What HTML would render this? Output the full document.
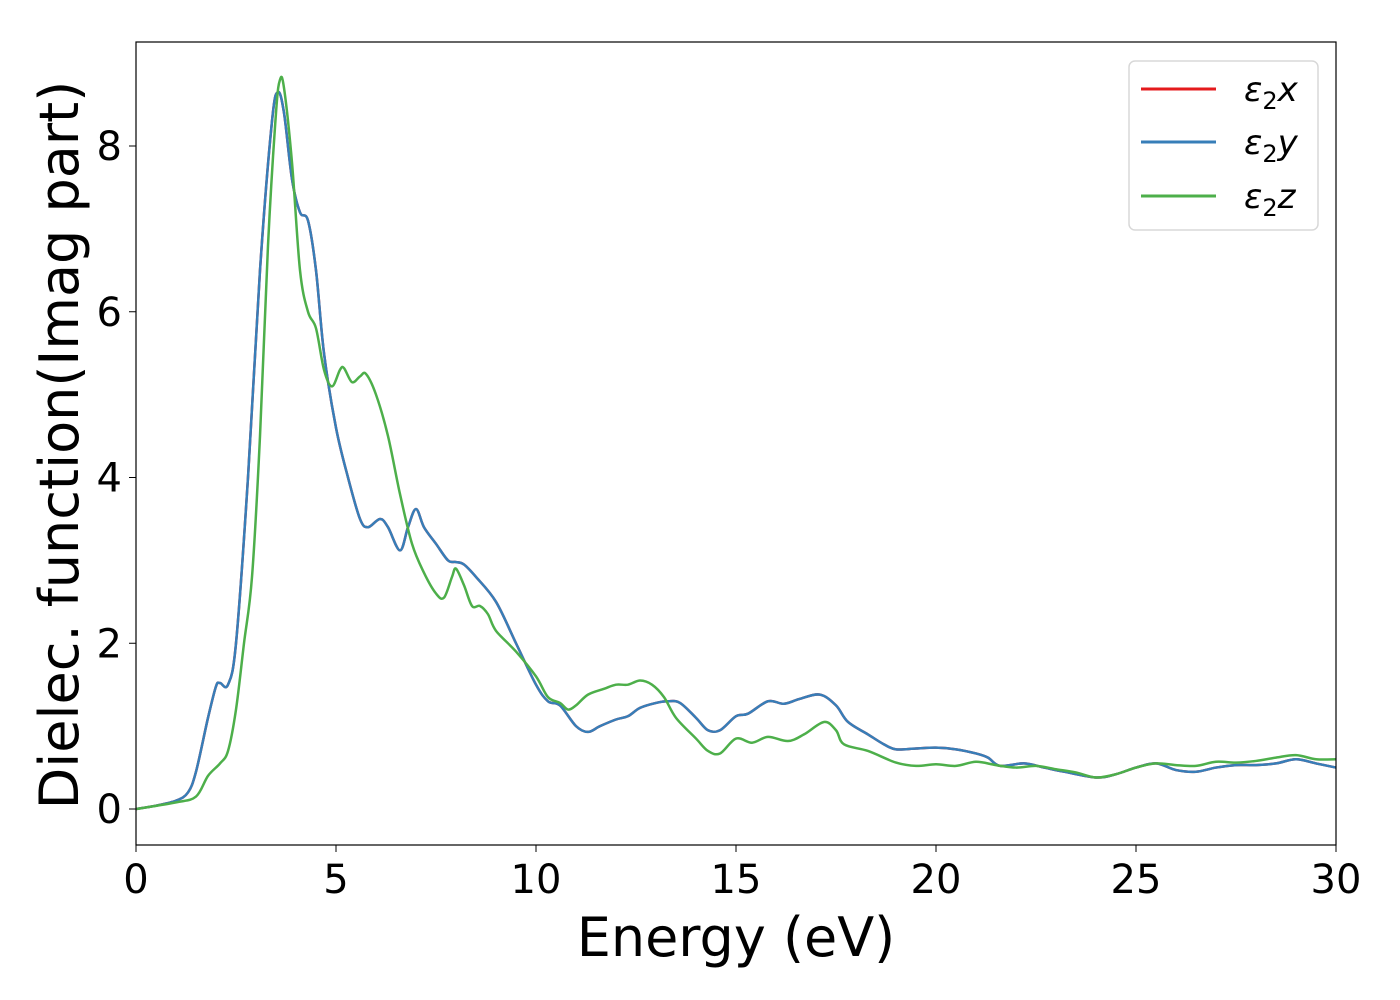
<!DOCTYPE html>
<html><head><meta charset="utf-8"><style>
html,body{margin:0;padding:0;background:#fff;}
svg{display:block;font-family:"DejaVu Sans","Liberation Sans",sans-serif;}
</style></head><body>
<svg id="chart" width="1400" height="1000">
<rect x="0" y="0" width="1400" height="1000" fill="#fff"/>
<g id="series"></g>
<rect x="136" y="42" width="1200" height="803" fill="none" stroke="#000" stroke-width="1.2"/>
<g id="xticks"></g>
<g id="yticks"></g>
<text x="736" y="956" font-size="54" text-anchor="middle">Energy (eV)</text>
<text transform="translate(78,445) rotate(-90)" font-size="54" text-anchor="middle">Dielec. function(Imag part)</text>
<g>
<rect x="1129" y="61" width="189" height="169" rx="6" fill="#fff" stroke="#d8d8d8" stroke-width="1.5"/>
<line x1="1141" y1="89" x2="1216" y2="89" stroke="#e41a1c" stroke-width="3"/>
<text x="1244" y="101" font-size="34" font-style="italic">ε<tspan font-style="normal" font-size="24" dy="8">2</tspan><tspan dy="-8">x</tspan></text>
<line x1="1141" y1="142" x2="1216" y2="142" stroke="#377eb8" stroke-width="3"/>
<text x="1244" y="154" font-size="34" font-style="italic">ε<tspan font-style="normal" font-size="24" dy="8">2</tspan><tspan dy="-8">y</tspan></text>
<line x1="1141" y1="196" x2="1216" y2="196" stroke="#4daf4a" stroke-width="3"/>
<text x="1244" y="208" font-size="34" font-style="italic">ε<tspan font-style="normal" font-size="24" dy="8">2</tspan><tspan dy="-8">z</tspan></text>
</g>
</svg>
<script>
const xyEnergy=[0,0.5,1,1.3,1.5,1.8,2.0,2.1,2.3,2.5,2.8,3.1,3.4,3.55,3.7,3.9,4.1,4.3,4.5,4.7,5.0,5.3,5.6,5.8,6.1,6.3,6.6,6.8,7.0,7.2,7.5,7.8,8.0,8.2,8.5,9.0,9.5,10.0,10.3,10.6,11.0,11.3,11.6,12.0,12.3,12.6,13.0,13.3,13.6,14.0,14.3,14.6,15.0,15.3,15.8,16.2,16.6,17.1,17.5,17.8,18.3,18.7,19.0,19.5,20.0,20.5,21.0,21.3,21.6,22.2,22.7,23.2,24.0,24.5,25.0,25.5,26.0,26.5,27.0,27.5,28.0,28.5,29.0,29.5,30];
const xValues=[0,0.04,0.1,0.2,0.45,1.1,1.48,1.52,1.5,2.0,4.0,6.5,8.3,8.65,8.4,7.6,7.2,7.1,6.5,5.5,4.6,4.0,3.5,3.4,3.5,3.4,3.12,3.4,3.62,3.4,3.2,3.0,2.98,2.95,2.8,2.5,2.0,1.5,1.3,1.25,1.0,0.93,1.0,1.08,1.12,1.22,1.28,1.3,1.28,1.1,0.95,0.95,1.12,1.15,1.3,1.27,1.33,1.38,1.25,1.05,0.9,0.78,0.72,0.73,0.74,0.72,0.67,0.62,0.52,0.55,0.5,0.45,0.38,0.42,0.5,0.55,0.47,0.45,0.5,0.53,0.53,0.55,0.6,0.55,0.5];
const yValues=xValues.slice();
const zEnergy=[0,1,1.5,1.8,2.1,2.3,2.5,2.7,2.9,3.1,3.3,3.5,3.6,3.7,3.9,4.1,4.3,4.5,4.7,4.9,5.1,5.2,5.4,5.6,5.75,6.0,6.3,6.6,6.9,7.2,7.5,7.7,7.9,8.0,8.2,8.4,8.6,8.8,9.0,9.5,10.0,10.3,10.6,10.8,11.0,11.3,11.7,12.0,12.3,12.6,12.9,13.2,13.5,14.0,14.3,14.6,15.0,15.4,15.8,16.3,16.7,17.2,17.5,17.7,18.3,19.0,19.5,20.0,20.5,21.0,21.5,22.0,22.5,23.0,23.5,24.0,24.5,25.0,25.5,26.0,26.5,27.0,27.5,28.0,28.5,29.0,29.5,30];
const zValues=[0,0.08,0.15,0.4,0.55,0.7,1.2,2.0,2.8,4.5,6.8,8.4,8.8,8.7,7.8,6.5,6.0,5.8,5.3,5.1,5.3,5.32,5.15,5.22,5.25,5.0,4.5,3.8,3.2,2.85,2.6,2.55,2.8,2.9,2.7,2.45,2.45,2.35,2.15,1.9,1.6,1.35,1.28,1.2,1.25,1.38,1.45,1.5,1.5,1.55,1.5,1.35,1.1,0.85,0.7,0.67,0.85,0.8,0.87,0.82,0.9,1.05,0.95,0.78,0.7,0.56,0.52,0.54,0.52,0.57,0.53,0.5,0.52,0.48,0.44,0.38,0.42,0.5,0.55,0.53,0.52,0.57,0.56,0.58,0.62,0.65,0.6,0.6];
const xTicks=[0,5,10,15,20,25,30];
const yTicks=[0,2,4,6,8];
const NS="http://www.w3.org/2000/svg";
function sx(v){return 136+v*40;}
function sy(v){return 809-v*82.875;}
function pathFor(xs,ys){
  const p=xs.map((x,i)=>[sx(x),sy(ys[i])]);
  let d="M"+p[0][0]+","+p[0][1];
  for(let i=0;i<p.length-1;i++){
    const p0=p[Math.max(0,i-1)],p1=p[i],p2=p[i+1],p3=p[Math.min(p.length-1,i+2)];
    const c1=[p1[0]+(p2[0]-p0[0])/6,p1[1]+(p2[1]-p0[1])/6];
    const c2=[p2[0]-(p3[0]-p1[0])/6,p2[1]-(p3[1]-p1[1])/6];
    d+=" C"+c1[0]+","+c1[1]+" "+c2[0]+","+c2[1]+" "+p2[0]+","+p2[1];
  }
  return d;
}
const g=document.getElementById("series");
[[xyEnergy,xValues,"#e41a1c","series-x"],[xyEnergy,yValues,"#377eb8","series-y"],[zEnergy,zValues,"#4daf4a","series-z"]].forEach(s=>{
  const el=document.createElementNS(NS,"path");
  el.setAttribute("d",pathFor(s[0],s[1]));
  el.setAttribute("fill","none");
  el.setAttribute("stroke",s[2]);
  el.setAttribute("stroke-width","2.5");
  
  
  g.appendChild(el);
});
const xt=document.getElementById("xticks");
xTicks.forEach(v=>{
  const l=document.createElementNS(NS,"line");
  l.setAttribute("x1",sx(v));l.setAttribute("x2",sx(v));l.setAttribute("y1",845);l.setAttribute("y2",852);
  l.setAttribute("stroke","#000");
  
  
  xt.appendChild(l);
  const t=document.createElementNS(NS,"text");
  t.setAttribute("x",sx(v));t.setAttribute("y",893);t.setAttribute("font-size","40");t.setAttribute("text-anchor","middle");
  t.textContent=v;
  
  
  xt.appendChild(t);
});
const yt=document.getElementById("yticks");
yTicks.forEach(v=>{
  const l=document.createElementNS(NS,"line");
  l.setAttribute("x1",129);l.setAttribute("x2",136);l.setAttribute("y1",sy(v));l.setAttribute("y2",sy(v));
  l.setAttribute("stroke","#000");
  
  
  yt.appendChild(l);
  const t=document.createElementNS(NS,"text");
  t.setAttribute("x",122);t.setAttribute("y",sy(v)+14);t.setAttribute("font-size","40");t.setAttribute("text-anchor","end");
  t.textContent=v;
  
  
  yt.appendChild(t);
});
</script>
</body></html>
